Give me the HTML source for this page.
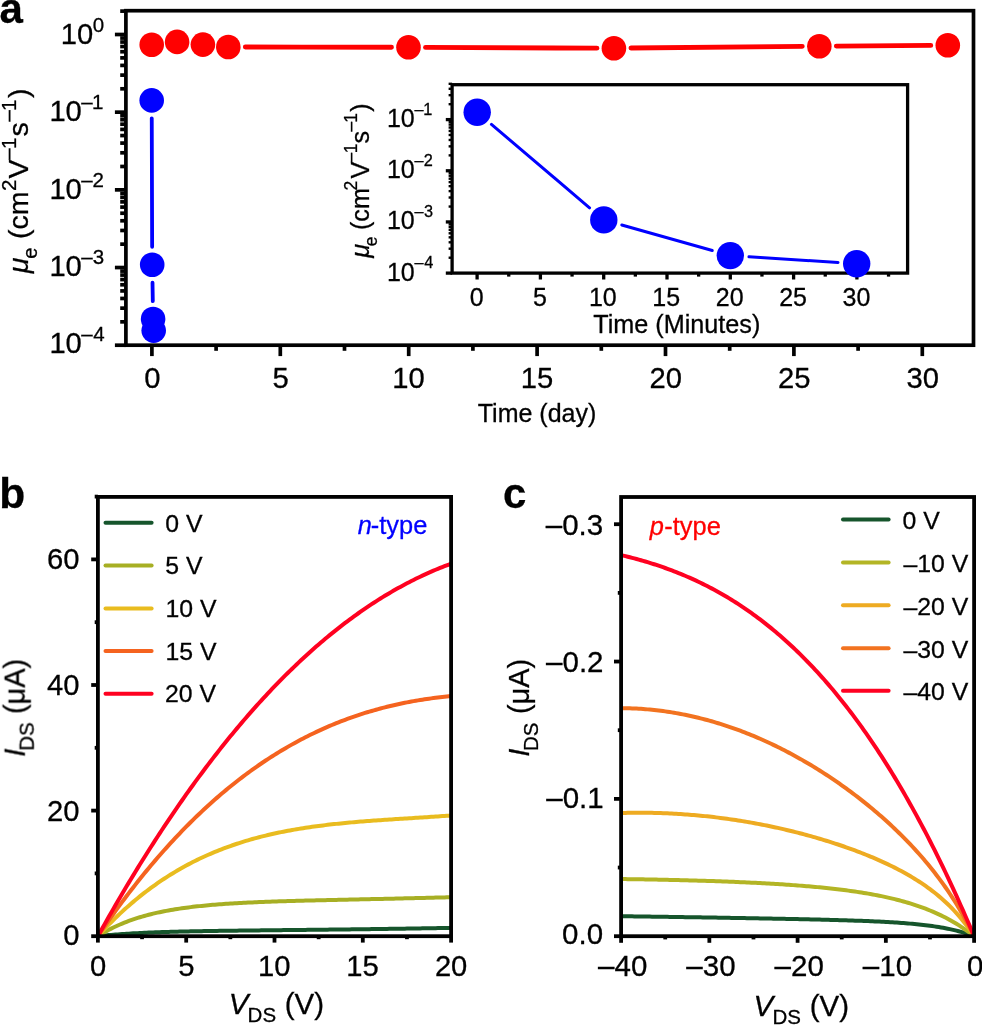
<!DOCTYPE html>
<html><head><meta charset="utf-8"><style>
html,body{margin:0;padding:0;background:#fff;}
svg{display:block;}
text{font-family:"Liberation Sans", sans-serif;stroke-width:0.3px;}
</style></head><body>
<svg width="982" height="1025" viewBox="0 0 982 1025">
<rect x="0" y="0" width="982" height="1025" fill="#fff"/>
<g opacity="0.999">
<line x1="125.9" y1="34.5" x2="114.9" y2="34.5" stroke="#000" stroke-width="3.7"/>
<line x1="125.9" y1="112.18" x2="114.9" y2="112.18" stroke="#000" stroke-width="3.7"/>
<line x1="125.9" y1="189.86" x2="114.9" y2="189.86" stroke="#000" stroke-width="3.7"/>
<line x1="125.9" y1="267.54" x2="114.9" y2="267.54" stroke="#000" stroke-width="3.7"/>
<line x1="125.9" y1="345.22" x2="114.9" y2="345.22" stroke="#000" stroke-width="3.7"/>
<line x1="125.9" y1="88.8" x2="120.2" y2="88.8" stroke="#000" stroke-width="3.7"/>
<line x1="125.9" y1="75.12" x2="120.2" y2="75.12" stroke="#000" stroke-width="3.7"/>
<line x1="125.9" y1="65.41" x2="120.2" y2="65.41" stroke="#000" stroke-width="3.7"/>
<line x1="125.9" y1="57.88" x2="120.2" y2="57.88" stroke="#000" stroke-width="3.7"/>
<line x1="125.9" y1="51.73" x2="120.2" y2="51.73" stroke="#000" stroke-width="3.7"/>
<line x1="125.9" y1="46.53" x2="120.2" y2="46.53" stroke="#000" stroke-width="3.7"/>
<line x1="125.9" y1="42.03" x2="120.2" y2="42.03" stroke="#000" stroke-width="3.7"/>
<line x1="125.9" y1="38.05" x2="120.2" y2="38.05" stroke="#000" stroke-width="3.7"/>
<line x1="125.9" y1="166.48" x2="120.2" y2="166.48" stroke="#000" stroke-width="3.7"/>
<line x1="125.9" y1="152.8" x2="120.2" y2="152.8" stroke="#000" stroke-width="3.7"/>
<line x1="125.9" y1="143.09" x2="120.2" y2="143.09" stroke="#000" stroke-width="3.7"/>
<line x1="125.9" y1="135.56" x2="120.2" y2="135.56" stroke="#000" stroke-width="3.7"/>
<line x1="125.9" y1="129.41" x2="120.2" y2="129.41" stroke="#000" stroke-width="3.7"/>
<line x1="125.9" y1="124.21" x2="120.2" y2="124.21" stroke="#000" stroke-width="3.7"/>
<line x1="125.9" y1="119.71" x2="120.2" y2="119.71" stroke="#000" stroke-width="3.7"/>
<line x1="125.9" y1="115.73" x2="120.2" y2="115.73" stroke="#000" stroke-width="3.7"/>
<line x1="125.9" y1="244.16" x2="120.2" y2="244.16" stroke="#000" stroke-width="3.7"/>
<line x1="125.9" y1="230.48" x2="120.2" y2="230.48" stroke="#000" stroke-width="3.7"/>
<line x1="125.9" y1="220.77" x2="120.2" y2="220.77" stroke="#000" stroke-width="3.7"/>
<line x1="125.9" y1="213.24" x2="120.2" y2="213.24" stroke="#000" stroke-width="3.7"/>
<line x1="125.9" y1="207.09" x2="120.2" y2="207.09" stroke="#000" stroke-width="3.7"/>
<line x1="125.9" y1="201.89" x2="120.2" y2="201.89" stroke="#000" stroke-width="3.7"/>
<line x1="125.9" y1="197.39" x2="120.2" y2="197.39" stroke="#000" stroke-width="3.7"/>
<line x1="125.9" y1="193.41" x2="120.2" y2="193.41" stroke="#000" stroke-width="3.7"/>
<line x1="125.9" y1="321.84" x2="120.2" y2="321.84" stroke="#000" stroke-width="3.7"/>
<line x1="125.9" y1="308.16" x2="120.2" y2="308.16" stroke="#000" stroke-width="3.7"/>
<line x1="125.9" y1="298.45" x2="120.2" y2="298.45" stroke="#000" stroke-width="3.7"/>
<line x1="125.9" y1="290.92" x2="120.2" y2="290.92" stroke="#000" stroke-width="3.7"/>
<line x1="125.9" y1="284.77" x2="120.2" y2="284.77" stroke="#000" stroke-width="3.7"/>
<line x1="125.9" y1="279.57" x2="120.2" y2="279.57" stroke="#000" stroke-width="3.7"/>
<line x1="125.9" y1="275.07" x2="120.2" y2="275.07" stroke="#000" stroke-width="3.7"/>
<line x1="125.9" y1="271.09" x2="120.2" y2="271.09" stroke="#000" stroke-width="3.7"/>
<line x1="125.9" y1="11.12" x2="120.2" y2="11.12" stroke="#000" stroke-width="3.7"/>
<line x1="151.9" y1="345.2" x2="151.9" y2="356.1" stroke="#000" stroke-width="3.7"/>
<line x1="280.3" y1="345.2" x2="280.3" y2="356.1" stroke="#000" stroke-width="3.7"/>
<line x1="408.7" y1="345.2" x2="408.7" y2="356.1" stroke="#000" stroke-width="3.7"/>
<line x1="537.1" y1="345.2" x2="537.1" y2="356.1" stroke="#000" stroke-width="3.7"/>
<line x1="665.5" y1="345.2" x2="665.5" y2="356.1" stroke="#000" stroke-width="3.7"/>
<line x1="793.9" y1="345.2" x2="793.9" y2="356.1" stroke="#000" stroke-width="3.7"/>
<line x1="922.3" y1="345.2" x2="922.3" y2="356.1" stroke="#000" stroke-width="3.7"/>
<line x1="216.1" y1="345.2" x2="216.1" y2="350.8" stroke="#000" stroke-width="3.7"/>
<line x1="344.5" y1="345.2" x2="344.5" y2="350.8" stroke="#000" stroke-width="3.7"/>
<line x1="472.9" y1="345.2" x2="472.9" y2="350.8" stroke="#000" stroke-width="3.7"/>
<line x1="601.3" y1="345.2" x2="601.3" y2="350.8" stroke="#000" stroke-width="3.7"/>
<line x1="729.7" y1="345.2" x2="729.7" y2="350.8" stroke="#000" stroke-width="3.7"/>
<line x1="858.1" y1="345.2" x2="858.1" y2="350.8" stroke="#000" stroke-width="3.7"/>
<rect x="125.9" y="10.7" width="847.6" height="334.5" fill="none" stroke="#000" stroke-width="3.7"/>
<text x="60.78" y="43.9" font-size="29.2" stroke="#000">10</text>
<text x="92.7" y="31.6" font-size="20.5" stroke="#000">0</text>
<text x="49.38" y="121" font-size="29.2" stroke="#000">10</text>
<text x="81.3" y="108.7" font-size="20.5" stroke="#000">–</text>
<text x="92.04" y="108.7" font-size="20.5" stroke="#000">1</text>
<text x="49.38" y="198.9" font-size="29.2" stroke="#000">10</text>
<text x="81.3" y="186.6" font-size="20.5" stroke="#000">–</text>
<text x="92.57" y="186.6" font-size="20.5" stroke="#000">2</text>
<text x="49.38" y="275.8" font-size="29.2" stroke="#000">10</text>
<text x="81.3" y="263.5" font-size="20.5" stroke="#000">–</text>
<text x="92.82" y="263.5" font-size="20.5" stroke="#000">3</text>
<text x="49.38" y="353.1" font-size="29.2" stroke="#000">10</text>
<text x="81.3" y="340.8" font-size="20.5" stroke="#000">–</text>
<text x="93.13" y="340.8" font-size="20.5" stroke="#000">4</text>
<text x="144.18" y="387.7" font-size="29.2" stroke="#000">0</text>
<text x="272.61" y="387.7" font-size="29.2" stroke="#000">5</text>
<text x="392.32" y="387.7" font-size="29.2" stroke="#000">10</text>
<text x="520.76" y="387.7" font-size="29.2" stroke="#000">15</text>
<text x="649.5" y="387.7" font-size="29.2" stroke="#000">20</text>
<text x="777.94" y="387.7" font-size="29.2" stroke="#000">25</text>
<text x="906.47" y="387.7" font-size="29.2" stroke="#000">30</text>
<text x="477.74" y="421.9" font-size="25" stroke="#000">Time (day)</text>
<g transform="translate(28.2,273.9) rotate(-90)"><text x="0.6" y="0" font-size="28.5" font-style="italic" stroke="#000">μ</text><text x="15.25" y="8.5" font-size="20" stroke="#000">e</text><text x="34.83" y="0" font-size="28.5" stroke="#000">(cm</text><text x="82.87" y="-12.4" font-size="20.5" stroke="#000">2</text><text x="95.47" y="0" font-size="28.5" stroke="#000">V</text><text x="114.2" y="-13.1" font-size="20.5" stroke="#000">–</text><text x="124.84" y="-12.6" font-size="20.5" stroke="#000">1</text><text x="137.31" y="0" font-size="28.5" stroke="#000">s</text><text x="152.3" y="-13.1" font-size="20.5" stroke="#000">–</text><text x="162.94" y="-12.6" font-size="20.5" stroke="#000">1</text><text x="176.03" y="0" font-size="28.5" stroke="#000">)</text></g>
<line x1="245.35" y1="47.03" x2="391.45" y2="47.27" stroke="#ff0000" stroke-width="4.9" stroke-linecap="round"/>
<line x1="425.55" y1="47.37" x2="596.85" y2="48.13" stroke="#ff0000" stroke-width="4.9" stroke-linecap="round"/>
<line x1="630.95" y1="48.03" x2="802.25" y2="46.37" stroke="#ff0000" stroke-width="4.9" stroke-linecap="round"/>
<line x1="836.35" y1="46.08" x2="930.75" y2="45.42" stroke="#ff0000" stroke-width="4.9" stroke-linecap="round"/>
<line x1="151.75" y1="118.3" x2="152.15" y2="246.8" stroke="#0000ff" stroke-width="3.8" stroke-linecap="round"/>
<line x1="152.5" y1="282.6" x2="152.8" y2="301.1" stroke="#0000ff" stroke-width="3.8" stroke-linecap="round"/>
<circle cx="151.7" cy="44.7" r="12.3" fill="#ff0000"/>
<circle cx="177.1" cy="41.9" r="12.3" fill="#ff0000"/>
<circle cx="202.9" cy="44.6" r="12.3" fill="#ff0000"/>
<circle cx="228.3" cy="47" r="12.3" fill="#ff0000"/>
<circle cx="408.5" cy="47.3" r="12.3" fill="#ff0000"/>
<circle cx="613.9" cy="48.2" r="12.3" fill="#ff0000"/>
<circle cx="819.3" cy="46.2" r="12.3" fill="#ff0000"/>
<circle cx="947.8" cy="45.3" r="12.3" fill="#ff0000"/>
<circle cx="151.7" cy="100.4" r="12.3" fill="#0000ff"/>
<circle cx="152.2" cy="264.7" r="12.3" fill="#0000ff"/>
<circle cx="153.1" cy="319" r="12.3" fill="#0000ff"/>
<circle cx="153.7" cy="330.6" r="12.3" fill="#0000ff"/>
<line x1="452.1" y1="119.6" x2="445.8" y2="119.6" stroke="#000" stroke-width="3.3"/>
<line x1="452.1" y1="170.77" x2="445.8" y2="170.77" stroke="#000" stroke-width="3.3"/>
<line x1="452.1" y1="221.94" x2="445.8" y2="221.94" stroke="#000" stroke-width="3.3"/>
<line x1="452.1" y1="273.11" x2="445.8" y2="273.11" stroke="#000" stroke-width="3.3"/>
<line x1="452.1" y1="104.2" x2="448.6" y2="104.2" stroke="#000" stroke-width="2.4"/>
<line x1="452.1" y1="95.19" x2="448.6" y2="95.19" stroke="#000" stroke-width="2.4"/>
<line x1="452.1" y1="88.79" x2="448.6" y2="88.79" stroke="#000" stroke-width="2.4"/>
<line x1="452.1" y1="83.83" x2="448.6" y2="83.83" stroke="#000" stroke-width="2.4"/>
<line x1="452.1" y1="155.37" x2="448.6" y2="155.37" stroke="#000" stroke-width="2.4"/>
<line x1="452.1" y1="146.36" x2="448.6" y2="146.36" stroke="#000" stroke-width="2.4"/>
<line x1="452.1" y1="139.96" x2="448.6" y2="139.96" stroke="#000" stroke-width="2.4"/>
<line x1="452.1" y1="135" x2="448.6" y2="135" stroke="#000" stroke-width="2.4"/>
<line x1="452.1" y1="130.95" x2="448.6" y2="130.95" stroke="#000" stroke-width="2.4"/>
<line x1="452.1" y1="127.53" x2="448.6" y2="127.53" stroke="#000" stroke-width="2.4"/>
<line x1="452.1" y1="124.56" x2="448.6" y2="124.56" stroke="#000" stroke-width="2.4"/>
<line x1="452.1" y1="121.94" x2="448.6" y2="121.94" stroke="#000" stroke-width="2.4"/>
<line x1="452.1" y1="206.54" x2="448.6" y2="206.54" stroke="#000" stroke-width="2.4"/>
<line x1="452.1" y1="197.53" x2="448.6" y2="197.53" stroke="#000" stroke-width="2.4"/>
<line x1="452.1" y1="191.13" x2="448.6" y2="191.13" stroke="#000" stroke-width="2.4"/>
<line x1="452.1" y1="186.17" x2="448.6" y2="186.17" stroke="#000" stroke-width="2.4"/>
<line x1="452.1" y1="182.12" x2="448.6" y2="182.12" stroke="#000" stroke-width="2.4"/>
<line x1="452.1" y1="178.7" x2="448.6" y2="178.7" stroke="#000" stroke-width="2.4"/>
<line x1="452.1" y1="175.73" x2="448.6" y2="175.73" stroke="#000" stroke-width="2.4"/>
<line x1="452.1" y1="173.11" x2="448.6" y2="173.11" stroke="#000" stroke-width="2.4"/>
<line x1="452.1" y1="257.71" x2="448.6" y2="257.71" stroke="#000" stroke-width="2.4"/>
<line x1="452.1" y1="248.7" x2="448.6" y2="248.7" stroke="#000" stroke-width="2.4"/>
<line x1="452.1" y1="242.3" x2="448.6" y2="242.3" stroke="#000" stroke-width="2.4"/>
<line x1="452.1" y1="237.34" x2="448.6" y2="237.34" stroke="#000" stroke-width="2.4"/>
<line x1="452.1" y1="233.29" x2="448.6" y2="233.29" stroke="#000" stroke-width="2.4"/>
<line x1="452.1" y1="229.87" x2="448.6" y2="229.87" stroke="#000" stroke-width="2.4"/>
<line x1="452.1" y1="226.9" x2="448.6" y2="226.9" stroke="#000" stroke-width="2.4"/>
<line x1="452.1" y1="224.28" x2="448.6" y2="224.28" stroke="#000" stroke-width="2.4"/>
<line x1="477.1" y1="273.1" x2="477.1" y2="279.5" stroke="#000" stroke-width="3.3"/>
<line x1="540.4" y1="273.1" x2="540.4" y2="279.5" stroke="#000" stroke-width="3.3"/>
<line x1="603.7" y1="273.1" x2="603.7" y2="279.5" stroke="#000" stroke-width="3.3"/>
<line x1="667" y1="273.1" x2="667" y2="279.5" stroke="#000" stroke-width="3.3"/>
<line x1="730.3" y1="273.1" x2="730.3" y2="279.5" stroke="#000" stroke-width="3.3"/>
<line x1="793.6" y1="273.1" x2="793.6" y2="279.5" stroke="#000" stroke-width="3.3"/>
<line x1="856.9" y1="273.1" x2="856.9" y2="279.5" stroke="#000" stroke-width="3.3"/>
<line x1="508.75" y1="273.1" x2="508.75" y2="276.6" stroke="#000" stroke-width="3.3"/>
<line x1="572.05" y1="273.1" x2="572.05" y2="276.6" stroke="#000" stroke-width="3.3"/>
<line x1="635.35" y1="273.1" x2="635.35" y2="276.6" stroke="#000" stroke-width="3.3"/>
<line x1="698.65" y1="273.1" x2="698.65" y2="276.6" stroke="#000" stroke-width="3.3"/>
<line x1="761.95" y1="273.1" x2="761.95" y2="276.6" stroke="#000" stroke-width="3.3"/>
<line x1="825.25" y1="273.1" x2="825.25" y2="276.6" stroke="#000" stroke-width="3.3"/>
<line x1="888.55" y1="273.1" x2="888.55" y2="276.6" stroke="#000" stroke-width="3.3"/>
<rect x="452.1" y="84.7" width="455.5" height="188.4" fill="none" stroke="#000" stroke-width="3.3"/>
<text x="386.9" y="127.1" font-size="25" stroke="#000">10</text>
<text x="414.4" y="114.8" font-size="16.3" stroke="#000">–</text>
<text x="423.36" y="114.8" font-size="16.3" stroke="#000">1</text>
<text x="386.9" y="178" font-size="25" stroke="#000">10</text>
<text x="414.4" y="165.7" font-size="16.3" stroke="#000">–</text>
<text x="423.78" y="165.7" font-size="16.3" stroke="#000">2</text>
<text x="386.9" y="229.3" font-size="25" stroke="#000">10</text>
<text x="414.4" y="217" font-size="16.3" stroke="#000">–</text>
<text x="423.98" y="217" font-size="16.3" stroke="#000">3</text>
<text x="386.9" y="280.6" font-size="25" stroke="#000">10</text>
<text x="414.4" y="268.3" font-size="16.3" stroke="#000">–</text>
<text x="424.23" y="268.3" font-size="16.3" stroke="#000">4</text>
<text x="469.75" y="305.9" font-size="25" stroke="#000">0</text>
<text x="533.07" y="305.9" font-size="25" stroke="#000">5</text>
<text x="588.93" y="305.9" font-size="25" stroke="#000">10</text>
<text x="652.27" y="305.9" font-size="25" stroke="#000">15</text>
<text x="715.86" y="305.9" font-size="25" stroke="#000">20</text>
<text x="779.19" y="305.9" font-size="25" stroke="#000">25</text>
<text x="842.61" y="305.9" font-size="25" stroke="#000">30</text>
<text x="593.33" y="332.7" font-size="25.2" stroke="#000">Time (Minutes)</text>
<g transform="translate(369,258.3) rotate(-90)"><text x="0.53" y="0" font-size="25.2" font-style="italic" stroke="#000">μ</text><text x="12.06" y="8.2" font-size="17.5" stroke="#000">e</text><text x="28.24" y="0" font-size="25.2" stroke="#000">(cm</text><text x="67.92" y="-12" font-size="17.5" stroke="#000">2</text><text x="79.89" y="0" font-size="25.2" stroke="#000">V</text><text x="95.8" y="-12.8" font-size="17.5" stroke="#000">–</text><text x="104.97" y="-12" font-size="17.5" stroke="#000">1</text><text x="114.8" y="0" font-size="25.2" stroke="#000">s</text><text x="126.9" y="-12.8" font-size="17.5" stroke="#000">–</text><text x="135.67" y="-12" font-size="17.5" stroke="#000">1</text><text x="146.45" y="0" font-size="25.2" stroke="#000">)</text></g>
<line x1="491.45" y1="124.41" x2="589.55" y2="207.79" stroke="#0000ff" stroke-width="3" stroke-linecap="round"/>
<line x1="621.8" y1="224.98" x2="712.3" y2="250.52" stroke="#0000ff" stroke-width="3" stroke-linecap="round"/>
<line x1="748.96" y1="256.8" x2="838.04" y2="262.5" stroke="#0000ff" stroke-width="3" stroke-linecap="round"/>
<circle cx="477.2" cy="112.3" r="13.7" fill="#0000ff"/>
<circle cx="603.8" cy="219.9" r="13.7" fill="#0000ff"/>
<circle cx="730.3" cy="255.6" r="13.7" fill="#0000ff"/>
<circle cx="856.7" cy="263.7" r="13.7" fill="#0000ff"/>
<polyline points="97.9,936.2 100.11,935.96 102.32,935.73 104.52,935.52 106.73,935.31 108.94,935.11 111.15,934.91 113.35,934.73 115.56,934.55 117.77,934.38 119.98,934.22 122.18,934.06 124.39,933.91 126.6,933.77 128.81,933.63 131.01,933.5 133.22,933.37 135.43,933.25 137.63,933.14 139.84,933.02 142.05,932.92 144.26,932.81 146.47,932.72 148.67,932.62 150.88,932.53 153.09,932.44 155.3,932.36 157.5,932.28 159.71,932.2 161.92,932.12 164.12,932.05 166.33,931.98 168.54,931.91 170.75,931.85 172.96,931.79 175.16,931.73 177.37,931.67 179.58,931.61 181.79,931.56 183.99,931.51 186.2,931.46 188.41,931.41 190.62,931.36 192.82,931.32 195.03,931.27 197.24,931.23 199.44,931.19 201.65,931.15 203.86,931.11 206.07,931.07 208.28,931.04 210.48,931 212.69,930.97 214.9,930.93 217.11,930.9 219.31,930.87 221.52,930.84 223.73,930.8 225.94,930.77 228.14,930.74 230.35,930.72 232.56,930.69 234.77,930.66 236.97,930.63 239.18,930.61 241.39,930.58 243.59,930.55 245.8,930.53 248.01,930.5 250.22,930.48 252.43,930.45 254.63,930.43 256.84,930.4 259.05,930.38 261.25,930.35 263.46,930.33 265.67,930.31 267.88,930.28 270.09,930.26 272.29,930.24 274.5,930.21 276.71,930.19 278.92,930.17 281.12,930.14 283.33,930.12 285.54,930.1 287.75,930.07 289.95,930.05 292.16,930.03 294.37,930 296.58,929.98 298.78,929.96 300.99,929.93 303.2,929.91 305.4,929.89 307.61,929.86 309.82,929.84 312.03,929.82 314.24,929.79 316.44,929.77 318.65,929.74 320.86,929.72 323.06,929.69 325.27,929.67 327.48,929.64 329.69,929.62 331.89,929.59 334.1,929.57 336.31,929.54 338.52,929.52 340.73,929.49 342.93,929.46 345.14,929.44 347.35,929.41 349.56,929.38 351.76,929.36 353.97,929.33 356.18,929.3 358.38,929.27 360.59,929.24 362.8,929.22 365.01,929.19 367.22,929.16 369.42,929.13 371.63,929.1 373.84,929.07 376.04,929.04 378.25,929.01 380.46,928.98 382.67,928.95 384.88,928.92 387.08,928.89 389.29,928.86 391.5,928.82 393.71,928.79 395.91,928.76 398.12,928.73 400.33,928.69 402.53,928.66 404.74,928.63 406.95,928.59 409.16,928.56 411.37,928.53 413.57,928.49 415.78,928.46 417.99,928.42 420.2,928.39 422.4,928.35 424.61,928.32 426.82,928.28 429.02,928.24 431.23,928.21 433.44,928.17 435.65,928.13 437.86,928.09 440.06,928.06 442.27,928.02 444.48,927.98 446.69,927.94 448.89,927.9 451.1,927.86" fill="none" stroke="#16552c" stroke-width="4" stroke-linejoin="round"/>
<polyline points="97.9,936.2 100.11,934.81 102.32,933.47 104.52,932.19 106.73,930.96 108.94,929.77 111.15,928.63 113.35,927.53 115.56,926.48 117.77,925.46 119.98,924.49 122.18,923.55 124.39,922.65 126.6,921.79 128.81,920.96 131.01,920.16 133.22,919.39 135.43,918.65 137.63,917.94 139.84,917.26 142.05,916.6 144.26,915.97 146.47,915.36 148.67,914.78 150.88,914.22 153.09,913.68 155.3,913.16 157.5,912.67 159.71,912.19 161.92,911.73 164.12,911.28 166.33,910.86 168.54,910.45 170.75,910.06 172.96,909.68 175.16,909.31 177.37,908.96 179.58,908.63 181.79,908.3 183.99,907.99 186.2,907.69 188.41,907.4 190.62,907.13 192.82,906.86 195.03,906.6 197.24,906.35 199.44,906.12 201.65,905.89 203.86,905.67 206.07,905.45 208.28,905.25 210.48,905.05 212.69,904.86 214.9,904.68 217.11,904.5 219.31,904.33 221.52,904.17 223.73,904.01 225.94,903.86 228.14,903.71 230.35,903.57 232.56,903.43 234.77,903.3 236.97,903.17 239.18,903.05 241.39,902.93 243.59,902.81 245.8,902.7 248.01,902.59 250.22,902.48 252.43,902.38 254.63,902.28 256.84,902.19 259.05,902.1 261.25,902.01 263.46,901.92 265.67,901.83 267.88,901.75 270.09,901.67 272.29,901.59 274.5,901.52 276.71,901.44 278.92,901.37 281.12,901.3 283.33,901.23 285.54,901.16 287.75,901.09 289.95,901.03 292.16,900.97 294.37,900.9 296.58,900.84 298.78,900.78 300.99,900.73 303.2,900.67 305.4,900.61 307.61,900.56 309.82,900.5 312.03,900.45 314.24,900.39 316.44,900.34 318.65,900.29 320.86,900.24 323.06,900.18 325.27,900.13 327.48,900.08 329.69,900.03 331.89,899.98 334.1,899.93 336.31,899.89 338.52,899.84 340.73,899.79 342.93,899.74 345.14,899.69 347.35,899.64 349.56,899.6 351.76,899.55 353.97,899.5 356.18,899.45 358.38,899.41 360.59,899.36 362.8,899.31 365.01,899.26 367.22,899.22 369.42,899.17 371.63,899.12 373.84,899.07 376.04,899.02 378.25,898.97 380.46,898.93 382.67,898.88 384.88,898.83 387.08,898.78 389.29,898.73 391.5,898.68 393.71,898.63 395.91,898.58 398.12,898.53 400.33,898.48 402.53,898.43 404.74,898.37 406.95,898.32 409.16,898.27 411.37,898.22 413.57,898.16 415.78,898.11 417.99,898.06 420.2,898 422.4,897.95 424.61,897.89 426.82,897.84 429.02,897.78 431.23,897.73 433.44,897.67 435.65,897.61 437.86,897.55 440.06,897.5 442.27,897.44 444.48,897.38 446.69,897.32 448.89,897.26 451.1,897.2" fill="none" stroke="#a7af24" stroke-width="4" stroke-linejoin="round"/>
<polyline points="97.9,936.2 100.11,933.78 102.32,931.39 104.52,929.05 106.73,926.74 108.94,924.47 111.15,922.24 113.35,920.04 115.56,917.89 117.77,915.76 119.98,913.67 122.18,911.62 124.39,909.6 126.6,907.62 128.81,905.67 131.01,903.75 133.22,901.87 135.43,900.02 137.63,898.2 139.84,896.41 142.05,894.66 144.26,892.93 146.47,891.24 148.67,889.58 150.88,887.94 153.09,886.34 155.3,884.76 157.5,883.22 159.71,881.7 161.92,880.21 164.12,878.75 166.33,877.31 168.54,875.9 170.75,874.52 172.96,873.17 175.16,871.84 177.37,870.53 179.58,869.25 181.79,868 183.99,866.77 186.2,865.56 188.41,864.38 190.62,863.22 192.82,862.09 195.03,860.98 197.24,859.89 199.44,858.82 201.65,857.77 203.86,856.75 206.07,855.74 208.28,854.76 210.48,853.8 212.69,852.86 214.9,851.94 217.11,851.03 219.31,850.15 221.52,849.29 223.73,848.44 225.94,847.62 228.14,846.81 230.35,846.02 232.56,845.25 234.77,844.49 236.97,843.75 239.18,843.03 241.39,842.32 243.59,841.63 245.8,840.96 248.01,840.3 250.22,839.66 252.43,839.03 254.63,838.42 256.84,837.82 259.05,837.24 261.25,836.67 263.46,836.11 265.67,835.57 267.88,835.04 270.09,834.52 272.29,834.02 274.5,833.53 276.71,833.05 278.92,832.58 281.12,832.13 283.33,831.68 285.54,831.25 287.75,830.83 289.95,830.42 292.16,830.02 294.37,829.63 296.58,829.25 298.78,828.88 300.99,828.52 303.2,828.16 305.4,827.82 307.61,827.49 309.82,827.16 312.03,826.85 314.24,826.54 316.44,826.24 318.65,825.95 320.86,825.66 323.06,825.39 325.27,825.12 327.48,824.86 329.69,824.6 331.89,824.35 334.1,824.11 336.31,823.87 338.52,823.64 340.73,823.41 342.93,823.19 345.14,822.98 347.35,822.77 349.56,822.57 351.76,822.37 353.97,822.17 356.18,821.98 358.38,821.8 360.59,821.61 362.8,821.44 365.01,821.26 367.22,821.09 369.42,820.92 371.63,820.76 373.84,820.6 376.04,820.44 378.25,820.28 380.46,820.13 382.67,819.97 384.88,819.82 387.08,819.68 389.29,819.53 391.5,819.39 393.71,819.24 395.91,819.1 398.12,818.96 400.33,818.82 402.53,818.68 404.74,818.54 406.95,818.4 409.16,818.26 411.37,818.13 413.57,817.99 415.78,817.85 417.99,817.71 420.2,817.57 422.4,817.43 424.61,817.29 426.82,817.15 429.02,817 431.23,816.86 433.44,816.71 435.65,816.57 437.86,816.42 440.06,816.27 442.27,816.11 444.48,815.96 446.69,815.8 448.89,815.64 451.1,815.48" fill="none" stroke="#e9bc1f" stroke-width="4" stroke-linejoin="round"/>
<polyline points="97.9,936.2 100.11,932.95 102.32,929.72 104.52,926.53 106.73,923.36 108.94,920.21 111.15,917.1 113.35,914.01 115.56,910.95 117.77,907.92 119.98,904.91 122.18,901.93 124.39,898.98 126.6,896.05 128.81,893.15 131.01,890.28 133.22,887.43 135.43,884.61 137.63,881.82 139.84,879.05 142.05,876.3 144.26,873.59 146.47,870.89 148.67,868.23 150.88,865.59 153.09,862.97 155.3,860.38 157.5,857.82 159.71,855.27 161.92,852.76 164.12,850.27 166.33,847.8 168.54,845.36 170.75,842.94 172.96,840.55 175.16,838.18 177.37,835.84 179.58,833.51 181.79,831.22 183.99,828.94 186.2,826.69 188.41,824.47 190.62,822.27 192.82,820.09 195.03,817.93 197.24,815.8 199.44,813.69 201.65,811.6 203.86,809.54 206.07,807.49 208.28,805.47 210.48,803.48 212.69,801.5 214.9,799.55 217.11,797.62 219.31,795.71 221.52,793.83 223.73,791.96 225.94,790.12 228.14,788.3 230.35,786.5 232.56,784.72 234.77,782.96 236.97,781.23 239.18,779.51 241.39,777.82 243.59,776.15 245.8,774.49 248.01,772.86 250.22,771.25 252.43,769.66 254.63,768.09 256.84,766.54 259.05,765.01 261.25,763.5 263.46,762.01 265.67,760.53 267.88,759.08 270.09,757.65 272.29,756.24 274.5,754.84 276.71,753.47 278.92,752.11 281.12,750.78 283.33,749.46 285.54,748.16 287.75,746.88 289.95,745.62 292.16,744.38 294.37,743.15 296.58,741.95 298.78,740.76 300.99,739.59 303.2,738.43 305.4,737.3 307.61,736.18 309.82,735.08 312.03,734 314.24,732.93 316.44,731.89 318.65,730.86 320.86,729.84 323.06,728.85 325.27,727.87 327.48,726.9 329.69,725.95 331.89,725.02 334.1,724.11 336.31,723.21 338.52,722.33 340.73,721.46 342.93,720.61 345.14,719.78 347.35,718.96 349.56,718.16 351.76,717.37 353.97,716.6 356.18,715.84 358.38,715.1 360.59,714.37 362.8,713.66 365.01,712.96 367.22,712.28 369.42,711.61 371.63,710.96 373.84,710.32 376.04,709.7 378.25,709.09 380.46,708.49 382.67,707.91 384.88,707.34 387.08,706.78 389.29,706.24 391.5,705.71 393.71,705.2 395.91,704.7 398.12,704.21 400.33,703.73 402.53,703.27 404.74,702.82 406.95,702.39 409.16,701.96 411.37,701.55 413.57,701.15 415.78,700.77 417.99,700.39 420.2,700.03 422.4,699.68 424.61,699.34 426.82,699.01 429.02,698.7 431.23,698.39 433.44,698.1 435.65,697.82 437.86,697.55 440.06,697.29 442.27,697.04 444.48,696.81 446.69,696.58 448.89,696.36 451.1,696.16" fill="none" stroke="#f5631f" stroke-width="4" stroke-linejoin="round"/>
<polyline points="97.9,936.2 100.11,932.23 102.32,928.28 104.52,924.36 106.73,920.46 108.94,916.58 111.15,912.72 113.35,908.88 115.56,905.07 117.77,901.27 119.98,897.5 122.18,893.76 124.39,890.03 126.6,886.33 128.81,882.64 131.01,878.98 133.22,875.34 135.43,871.73 137.63,868.13 139.84,864.56 142.05,861.01 144.26,857.47 146.47,853.97 148.67,850.48 150.88,847.01 153.09,843.57 155.3,840.15 157.5,836.75 159.71,833.37 161.92,830.01 164.12,826.67 166.33,823.36 168.54,820.06 170.75,816.79 172.96,813.54 175.16,810.31 177.37,807.1 179.58,803.91 181.79,800.74 183.99,797.6 186.2,794.47 188.41,791.37 190.62,788.29 192.82,785.23 195.03,782.19 197.24,779.17 199.44,776.17 201.65,773.19 203.86,770.23 206.07,767.3 208.28,764.38 210.48,761.49 212.69,758.61 214.9,755.76 217.11,752.93 219.31,750.12 221.52,747.32 223.73,744.55 225.94,741.8 228.14,739.07 230.35,736.36 232.56,733.68 234.77,731.01 236.97,728.36 239.18,725.73 241.39,723.12 243.59,720.54 245.8,717.97 248.01,715.42 250.22,712.9 252.43,710.39 254.63,707.91 256.84,705.44 259.05,702.99 261.25,700.57 263.46,698.16 265.67,695.78 267.88,693.41 270.09,691.07 272.29,688.74 274.5,686.44 276.71,684.15 278.92,681.88 281.12,679.64 283.33,677.41 285.54,675.2 287.75,673.02 289.95,670.85 292.16,668.7 294.37,666.57 296.58,664.46 298.78,662.37 300.99,660.3 303.2,658.25 305.4,656.22 307.61,654.21 309.82,652.22 312.03,650.25 314.24,648.29 316.44,646.36 318.65,644.45 320.86,642.55 323.06,640.67 325.27,638.82 327.48,636.98 329.69,635.16 331.89,633.36 334.1,631.58 336.31,629.82 338.52,628.08 340.73,626.35 342.93,624.65 345.14,622.96 347.35,621.3 349.56,619.65 351.76,618.02 353.97,616.41 356.18,614.82 358.38,613.25 360.59,611.69 362.8,610.16 365.01,608.64 367.22,607.14 369.42,605.66 371.63,604.2 373.84,602.76 376.04,601.33 378.25,599.93 380.46,598.54 382.67,597.17 384.88,595.82 387.08,594.49 389.29,593.18 391.5,591.88 393.71,590.6 395.91,589.35 398.12,588.1 400.33,586.88 402.53,585.68 404.74,584.49 406.95,583.32 409.16,582.17 411.37,581.04 413.57,579.93 415.78,578.83 417.99,577.75 420.2,576.69 422.4,575.65 424.61,574.62 426.82,573.62 429.02,572.63 431.23,571.66 433.44,570.7 435.65,569.77 437.86,568.85 440.06,567.95 442.27,567.06 444.48,566.2 446.69,565.35 448.89,564.52 451.1,563.71" fill="none" stroke="#ff0020" stroke-width="4" stroke-linejoin="round"/>
<line x1="97.9" y1="936.2" x2="91.2" y2="936.2" stroke="#000" stroke-width="3.8"/>
<line x1="97.9" y1="810.6" x2="91.2" y2="810.6" stroke="#000" stroke-width="3.8"/>
<line x1="97.9" y1="685" x2="91.2" y2="685" stroke="#000" stroke-width="3.8"/>
<line x1="97.9" y1="559.4" x2="91.2" y2="559.4" stroke="#000" stroke-width="3.8"/>
<line x1="97.9" y1="873.4" x2="94.7" y2="873.4" stroke="#000" stroke-width="3.8"/>
<line x1="97.9" y1="747.8" x2="94.7" y2="747.8" stroke="#000" stroke-width="3.8"/>
<line x1="97.9" y1="622.2" x2="94.7" y2="622.2" stroke="#000" stroke-width="3.8"/>
<line x1="97.9" y1="496.6" x2="94.7" y2="496.6" stroke="#000" stroke-width="3.8"/>
<line x1="97.9" y1="936.2" x2="97.9" y2="942.6" stroke="#000" stroke-width="3.8"/>
<line x1="186.2" y1="936.2" x2="186.2" y2="942.6" stroke="#000" stroke-width="3.8"/>
<line x1="274.5" y1="936.2" x2="274.5" y2="942.6" stroke="#000" stroke-width="3.8"/>
<line x1="362.8" y1="936.2" x2="362.8" y2="942.6" stroke="#000" stroke-width="3.8"/>
<line x1="451.1" y1="936.2" x2="451.1" y2="942.6" stroke="#000" stroke-width="3.8"/>
<line x1="142.05" y1="936.2" x2="142.05" y2="939.2" stroke="#000" stroke-width="3.8"/>
<line x1="230.35" y1="936.2" x2="230.35" y2="939.2" stroke="#000" stroke-width="3.8"/>
<line x1="318.65" y1="936.2" x2="318.65" y2="939.2" stroke="#000" stroke-width="3.8"/>
<line x1="406.95" y1="936.2" x2="406.95" y2="939.2" stroke="#000" stroke-width="3.8"/>
<rect x="97.9" y="496.9" width="353.2" height="439.3" fill="none" stroke="#000" stroke-width="3.8"/>
<text x="63.3" y="944.8" font-size="29.2" stroke="#000">0</text>
<text x="47.06" y="820.6" font-size="29.2" stroke="#000">20</text>
<text x="47.06" y="695" font-size="29.2" stroke="#000">40</text>
<text x="47.06" y="569.4" font-size="29.2" stroke="#000">60</text>
<text x="89.98" y="976.4" font-size="29.2" stroke="#000">0</text>
<text x="178.31" y="976.4" font-size="29.2" stroke="#000">5</text>
<text x="257.92" y="976.4" font-size="29.2" stroke="#000">10</text>
<text x="346.26" y="976.4" font-size="29.2" stroke="#000">15</text>
<text x="434.9" y="976.4" font-size="29.2" stroke="#000">20</text>
<line x1="105.5" y1="522.8" x2="151.6" y2="522.8" stroke="#16552c" stroke-width="4" stroke-linecap="round"/>
<text x="165.33" y="531.7" font-size="24.8" stroke="#000">0 V</text>
<line x1="105.5" y1="565.5" x2="151.6" y2="565.5" stroke="#a7af24" stroke-width="4" stroke-linecap="round"/>
<text x="165.31" y="574" font-size="24.8" stroke="#000">5 V</text>
<line x1="105.5" y1="608.5" x2="151.6" y2="608.5" stroke="#e9bc1f" stroke-width="4" stroke-linecap="round"/>
<text x="165.51" y="617.4" font-size="24.8" stroke="#000">10 V</text>
<line x1="105.5" y1="651" x2="151.6" y2="651" stroke="#f5631f" stroke-width="4" stroke-linecap="round"/>
<text x="165.51" y="659.7" font-size="24.8" stroke="#000">15 V</text>
<line x1="105.5" y1="693.8" x2="151.6" y2="693.8" stroke="#ff0020" stroke-width="4" stroke-linecap="round"/>
<text x="165.05" y="702" font-size="24.8" stroke="#000">20 V</text>
<text x="357.68" y="534" font-size="25.4" font-style="italic" fill="#0000ff" stroke="#0000ff">n</text>
<text x="370.87" y="534" font-size="25.4" fill="#0000ff" stroke="#0000ff">-type</text>
<text x="228.65" y="1014.1" font-size="29.5" font-style="italic" stroke="#000">V</text>
<text x="247.62" y="1021.5" font-size="20.5" stroke="#000">DS</text>
<text x="284.77" y="1014.1" font-size="29.5" stroke="#000">(V)</text>
<g transform="translate(24.7,755.5) rotate(-90)"><text x="-1.15" y="0" font-size="29" font-style="italic" stroke="#000">I</text><text x="4.72" y="9.3" font-size="20.5" stroke="#000">DS</text><text x="41.4" y="0" font-size="29" stroke="#000">(μA)</text></g>
<polyline points="974.1,936.2 971.89,935.37 969.69,934.58 967.48,933.83 965.27,933.13 963.07,932.46 960.86,931.83 958.66,931.23 956.45,930.67 954.24,930.13 952.04,929.62 949.83,929.14 947.62,928.68 945.42,928.25 943.21,927.84 941.01,927.45 938.8,927.08 936.59,926.72 934.39,926.39 932.18,926.07 929.98,925.77 927.77,925.48 925.56,925.21 923.36,924.95 921.15,924.7 918.94,924.47 916.74,924.24 914.53,924.03 912.33,923.82 910.12,923.63 907.91,923.44 905.71,923.26 903.5,923.09 901.29,922.93 899.09,922.77 896.88,922.62 894.68,922.48 892.47,922.34 890.26,922.21 888.06,922.08 885.85,921.96 883.64,921.84 881.44,921.72 879.23,921.62 877.03,921.51 874.82,921.41 872.61,921.31 870.41,921.21 868.2,921.12 865.99,921.03 863.79,920.95 861.58,920.86 859.38,920.78 857.17,920.7 854.96,920.63 852.76,920.55 850.55,920.48 848.34,920.41 846.14,920.34 843.93,920.27 841.73,920.2 839.52,920.14 837.31,920.08 835.11,920.02 832.9,919.96 830.69,919.9 828.49,919.84 826.28,919.78 824.08,919.72 821.87,919.67 819.66,919.62 817.46,919.56 815.25,919.51 813.04,919.46 810.84,919.41 808.63,919.36 806.43,919.31 804.22,919.26 802.01,919.21 799.81,919.16 797.6,919.12 795.39,919.07 793.19,919.02 790.98,918.98 788.78,918.93 786.57,918.89 784.36,918.85 782.16,918.8 779.95,918.76 777.74,918.72 775.54,918.67 773.33,918.63 771.12,918.59 768.92,918.55 766.71,918.51 764.51,918.46 762.3,918.42 760.09,918.38 757.89,918.34 755.68,918.3 753.48,918.26 751.27,918.22 749.06,918.19 746.86,918.15 744.65,918.11 742.44,918.07 740.24,918.03 738.03,917.99 735.83,917.96 733.62,917.92 731.41,917.88 729.21,917.84 727,917.81 724.79,917.77 722.59,917.73 720.38,917.69 718.18,917.66 715.97,917.62 713.76,917.59 711.56,917.55 709.35,917.51 707.14,917.48 704.94,917.44 702.73,917.41 700.53,917.37 698.32,917.34 696.11,917.3 693.91,917.27 691.7,917.23 689.49,917.2 687.29,917.16 685.08,917.13 682.88,917.1 680.67,917.06 678.46,917.03 676.26,916.99 674.05,916.96 671.84,916.93 669.64,916.89 667.43,916.86 665.23,916.83 663.02,916.79 660.81,916.76 658.61,916.73 656.4,916.7 654.19,916.66 651.99,916.63 649.78,916.6 647.58,916.57 645.37,916.53 643.16,916.5 640.96,916.47 638.75,916.44 636.54,916.41 634.34,916.38 632.13,916.34 629.93,916.31 627.72,916.28 625.51,916.25 623.31,916.22 621.1,916.19" fill="none" stroke="#16552c" stroke-width="4" stroke-linejoin="round"/>
<polyline points="974.1,936.2 971.89,934.46 969.69,932.78 967.48,931.15 965.27,929.58 963.07,928.06 960.86,926.59 958.66,925.17 956.45,923.8 954.24,922.48 952.04,921.2 949.83,919.96 947.62,918.76 945.42,917.6 943.21,916.48 941.01,915.39 938.8,914.34 936.59,913.33 934.39,912.35 932.18,911.4 929.98,910.48 927.77,909.59 925.56,908.73 923.36,907.89 921.15,907.08 918.94,906.3 916.74,905.54 914.53,904.81 912.33,904.1 910.12,903.41 907.91,902.74 905.71,902.1 903.5,901.47 901.29,900.86 899.09,900.27 896.88,899.7 894.68,899.15 892.47,898.61 890.26,898.09 888.06,897.59 885.85,897.09 883.64,896.62 881.44,896.16 879.23,895.71 877.03,895.27 874.82,894.85 872.61,894.44 870.41,894.04 868.2,893.65 865.99,893.27 863.79,892.91 861.58,892.55 859.38,892.21 857.17,891.87 854.96,891.54 852.76,891.22 850.55,890.91 848.34,890.61 846.14,890.32 843.93,890.03 841.73,889.75 839.52,889.48 837.31,889.22 835.11,888.96 832.9,888.71 830.69,888.47 828.49,888.23 826.28,888 824.08,887.77 821.87,887.55 819.66,887.34 817.46,887.13 815.25,886.92 813.04,886.72 810.84,886.53 808.63,886.34 806.43,886.15 804.22,885.97 802.01,885.79 799.81,885.62 797.6,885.45 795.39,885.28 793.19,885.12 790.98,884.97 788.78,884.81 786.57,884.66 784.36,884.51 782.16,884.37 779.95,884.23 777.74,884.09 775.54,883.95 773.33,883.82 771.12,883.69 768.92,883.57 766.71,883.44 764.51,883.32 762.3,883.2 760.09,883.09 757.89,882.97 755.68,882.86 753.48,882.75 751.27,882.64 749.06,882.54 746.86,882.44 744.65,882.34 742.44,882.24 740.24,882.14 738.03,882.05 735.83,881.95 733.62,881.86 731.41,881.77 729.21,881.69 727,881.6 724.79,881.52 722.59,881.43 720.38,881.35 718.18,881.27 715.97,881.2 713.76,881.12 711.56,881.05 709.35,880.97 707.14,880.9 704.94,880.83 702.73,880.76 700.53,880.7 698.32,880.63 696.11,880.57 693.91,880.5 691.7,880.44 689.49,880.38 687.29,880.32 685.08,880.26 682.88,880.21 680.67,880.15 678.46,880.1 676.26,880.04 674.05,879.99 671.84,879.94 669.64,879.89 667.43,879.84 665.23,879.79 663.02,879.74 660.81,879.7 658.61,879.65 656.4,879.61 654.19,879.57 651.99,879.53 649.78,879.49 647.58,879.45 645.37,879.41 643.16,879.37 640.96,879.33 638.75,879.3 636.54,879.26 634.34,879.23 632.13,879.2 629.93,879.17 627.72,879.14 625.51,879.11 623.31,879.08 621.1,879.05" fill="none" stroke="#b3b525" stroke-width="4" stroke-linejoin="round"/>
<polyline points="974.1,936.2 971.89,932.88 969.69,929.7 967.48,926.66 965.27,923.74 963.07,920.93 960.86,918.23 958.66,915.64 956.45,913.15 954.24,910.75 952.04,908.44 949.83,906.21 947.62,904.05 945.42,901.97 943.21,899.96 941.01,898.02 938.8,896.14 936.59,894.31 934.39,892.55 932.18,890.83 929.98,889.17 927.77,887.55 925.56,885.98 923.36,884.45 921.15,882.96 918.94,881.51 916.74,880.1 914.53,878.72 912.33,877.38 910.12,876.06 907.91,874.78 905.71,873.53 903.5,872.3 901.29,871.1 899.09,869.93 896.88,868.78 894.68,867.65 892.47,866.54 890.26,865.46 888.06,864.4 885.85,863.35 883.64,862.33 881.44,861.32 879.23,860.33 877.03,859.36 874.82,858.4 872.61,857.46 870.41,856.54 868.2,855.63 865.99,854.73 863.79,853.85 861.58,852.99 859.38,852.13 857.17,851.29 854.96,850.46 852.76,849.65 850.55,848.84 848.34,848.05 846.14,847.27 843.93,846.5 841.73,845.74 839.52,844.99 837.31,844.26 835.11,843.53 832.9,842.82 830.69,842.11 828.49,841.41 826.28,840.73 824.08,840.05 821.87,839.38 819.66,838.73 817.46,838.08 815.25,837.44 813.04,836.81 810.84,836.19 808.63,835.58 806.43,834.98 804.22,834.38 802.01,833.8 799.81,833.22 797.6,832.65 795.39,832.09 793.19,831.54 790.98,831 788.78,830.47 786.57,829.94 784.36,829.42 782.16,828.92 779.95,828.41 777.74,827.92 775.54,827.44 773.33,826.96 771.12,826.49 768.92,826.03 766.71,825.58 764.51,825.14 762.3,824.7 760.09,824.27 757.89,823.85 755.68,823.44 753.48,823.04 751.27,822.64 749.06,822.25 746.86,821.87 744.65,821.5 742.44,821.14 740.24,820.78 738.03,820.43 735.83,820.09 733.62,819.76 731.41,819.43 729.21,819.11 727,818.8 724.79,818.5 722.59,818.21 720.38,817.92 718.18,817.64 715.97,817.37 713.76,817.11 711.56,816.85 709.35,816.6 707.14,816.36 704.94,816.13 702.73,815.91 700.53,815.69 698.32,815.48 696.11,815.28 693.91,815.09 691.7,814.9 689.49,814.72 687.29,814.55 685.08,814.39 682.88,814.23 680.67,814.08 678.46,813.94 676.26,813.81 674.05,813.69 671.84,813.57 669.64,813.46 667.43,813.36 665.23,813.26 663.02,813.18 660.81,813.1 658.61,813.03 656.4,812.97 654.19,812.91 651.99,812.86 649.78,812.82 647.58,812.79 645.37,812.76 643.16,812.75 640.96,812.74 638.75,812.74 636.54,812.74 634.34,812.76 632.13,812.78 629.93,812.81 627.72,812.84 625.51,812.89 623.31,812.94 621.1,813" fill="none" stroke="#eeab22" stroke-width="4" stroke-linejoin="round"/>
<polyline points="974.1,936.2 971.89,931.74 969.69,927.43 967.48,923.24 965.27,919.18 963.07,915.24 960.86,911.4 958.66,907.68 956.45,904.05 954.24,900.52 952.04,897.08 949.83,893.73 947.62,890.45 945.42,887.26 943.21,884.14 941.01,881.08 938.8,878.1 936.59,875.18 934.39,872.31 932.18,869.51 929.98,866.76 927.77,864.07 925.56,861.42 923.36,858.83 921.15,856.28 918.94,853.77 916.74,851.31 914.53,848.89 912.33,846.51 910.12,844.16 907.91,841.85 905.71,839.58 903.5,837.34 901.29,835.14 899.09,832.96 896.88,830.82 894.68,828.71 892.47,826.62 890.26,824.57 888.06,822.54 885.85,820.54 883.64,818.56 881.44,816.61 879.23,814.69 877.03,812.78 874.82,810.91 872.61,809.05 870.41,807.22 868.2,805.4 865.99,803.62 863.79,801.85 861.58,800.1 859.38,798.37 857.17,796.67 854.96,794.98 852.76,793.31 850.55,791.66 848.34,790.03 846.14,788.42 843.93,786.83 841.73,785.26 839.52,783.7 837.31,782.16 835.11,780.65 832.9,779.14 830.69,777.66 828.49,776.19 826.28,774.74 824.08,773.31 821.87,771.89 819.66,770.49 817.46,769.11 815.25,767.74 813.04,766.39 810.84,765.06 808.63,763.74 806.43,762.44 804.22,761.16 802.01,759.89 799.81,758.64 797.6,757.4 795.39,756.18 793.19,754.98 790.98,753.79 788.78,752.62 786.57,751.46 784.36,750.32 782.16,749.19 779.95,748.08 777.74,746.99 775.54,745.91 773.33,744.84 771.12,743.8 768.92,742.76 766.71,741.75 764.51,740.74 762.3,739.76 760.09,738.79 757.89,737.83 755.68,736.89 753.48,735.97 751.27,735.06 749.06,734.16 746.86,733.28 744.65,732.42 742.44,731.57 740.24,730.73 738.03,729.92 735.83,729.11 733.62,728.33 731.41,727.55 729.21,726.79 727,726.05 724.79,725.32 722.59,724.61 720.38,723.92 718.18,723.23 715.97,722.57 713.76,721.91 711.56,721.28 709.35,720.66 707.14,720.05 704.94,719.46 702.73,718.88 700.53,718.32 698.32,717.78 696.11,717.24 693.91,716.73 691.7,716.23 689.49,715.74 687.29,715.27 685.08,714.82 682.88,714.38 680.67,713.95 678.46,713.54 676.26,713.15 674.05,712.76 671.84,712.4 669.64,712.05 667.43,711.71 665.23,711.39 663.02,711.09 660.81,710.8 658.61,710.52 656.4,710.27 654.19,710.02 651.99,709.79 649.78,709.58 647.58,709.38 645.37,709.19 643.16,709.02 640.96,708.87 638.75,708.73 636.54,708.6 634.34,708.49 632.13,708.4 629.93,708.32 627.72,708.26 625.51,708.21 623.31,708.17 621.1,708.15" fill="none" stroke="#f27320" stroke-width="4" stroke-linejoin="round"/>
<polyline points="974.1,936.2 971.89,931 969.69,925.84 967.48,920.74 965.27,915.68 963.07,910.67 960.86,905.7 958.66,900.78 956.45,895.91 954.24,891.08 952.04,886.3 949.83,881.57 947.62,876.88 945.42,872.24 943.21,867.64 941.01,863.09 938.8,858.58 936.59,854.11 934.39,849.69 932.18,845.31 929.98,840.98 927.77,836.69 925.56,832.44 923.36,828.24 921.15,824.08 918.94,819.96 916.74,815.88 914.53,811.85 912.33,807.85 910.12,803.9 907.91,799.99 905.71,796.12 903.5,792.29 901.29,788.5 899.09,784.75 896.88,781.05 894.68,777.38 892.47,773.75 890.26,770.16 888.06,766.61 885.85,763.1 883.64,759.62 881.44,756.19 879.23,752.79 877.03,749.43 874.82,746.11 872.61,742.82 870.41,739.58 868.2,736.37 865.99,733.19 863.79,730.06 861.58,726.95 859.38,723.89 857.17,720.86 854.96,717.87 852.76,714.91 850.55,711.98 848.34,709.1 846.14,706.24 843.93,703.42 841.73,700.64 839.52,697.89 837.31,695.17 835.11,692.48 832.9,689.83 830.69,687.21 828.49,684.63 826.28,682.07 824.08,679.55 821.87,677.06 819.66,674.61 817.46,672.18 815.25,669.79 813.04,667.42 810.84,665.09 808.63,662.79 806.43,660.52 804.22,658.28 802.01,656.06 799.81,653.88 797.6,651.73 795.39,649.61 793.19,647.51 790.98,645.45 788.78,643.41 786.57,641.41 784.36,639.43 782.16,637.47 779.95,635.55 777.74,633.65 775.54,631.78 773.33,629.94 771.12,628.12 768.92,626.33 766.71,624.57 764.51,622.83 762.3,621.12 760.09,619.44 757.89,617.78 755.68,616.14 753.48,614.53 751.27,612.95 749.06,611.38 746.86,609.85 744.65,608.34 742.44,606.85 740.24,605.38 738.03,603.94 735.83,602.52 733.62,601.12 731.41,599.75 729.21,598.4 727,597.07 724.79,595.77 722.59,594.48 720.38,593.22 718.18,591.98 715.97,590.75 713.76,589.56 711.56,588.38 709.35,587.22 707.14,586.08 704.94,584.96 702.73,583.86 700.53,582.78 698.32,581.72 696.11,580.68 693.91,579.66 691.7,578.66 689.49,577.67 687.29,576.71 685.08,575.76 682.88,574.83 680.67,573.91 678.46,573.02 676.26,572.14 674.05,571.28 671.84,570.43 669.64,569.61 667.43,568.79 665.23,568 663.02,567.22 660.81,566.45 658.61,565.7 656.4,564.97 654.19,564.25 651.99,563.54 649.78,562.85 647.58,562.18 645.37,561.52 643.16,560.87 640.96,560.24 638.75,559.61 636.54,559.01 634.34,558.41 632.13,557.83 629.93,557.26 627.72,556.7 625.51,556.16 623.31,555.63 621.1,555.11" fill="none" stroke="#ff0022" stroke-width="4" stroke-linejoin="round"/>
<line x1="621.1" y1="936.2" x2="614" y2="936.2" stroke="#000" stroke-width="3.8"/>
<line x1="621.1" y1="798.87" x2="614" y2="798.87" stroke="#000" stroke-width="3.8"/>
<line x1="621.1" y1="661.54" x2="614" y2="661.54" stroke="#000" stroke-width="3.8"/>
<line x1="621.1" y1="524.21" x2="614" y2="524.21" stroke="#000" stroke-width="3.8"/>
<line x1="621.1" y1="867.54" x2="617.8" y2="867.54" stroke="#000" stroke-width="3.8"/>
<line x1="621.1" y1="730.21" x2="617.8" y2="730.21" stroke="#000" stroke-width="3.8"/>
<line x1="621.1" y1="592.88" x2="617.8" y2="592.88" stroke="#000" stroke-width="3.8"/>
<line x1="621.1" y1="936.2" x2="621.1" y2="942.8" stroke="#000" stroke-width="3.8"/>
<line x1="709.35" y1="936.2" x2="709.35" y2="942.8" stroke="#000" stroke-width="3.8"/>
<line x1="797.6" y1="936.2" x2="797.6" y2="942.8" stroke="#000" stroke-width="3.8"/>
<line x1="885.85" y1="936.2" x2="885.85" y2="942.8" stroke="#000" stroke-width="3.8"/>
<line x1="974.1" y1="936.2" x2="974.1" y2="942.8" stroke="#000" stroke-width="3.8"/>
<line x1="665.23" y1="936.2" x2="665.23" y2="939.4" stroke="#000" stroke-width="3.8"/>
<line x1="753.48" y1="936.2" x2="753.48" y2="939.4" stroke="#000" stroke-width="3.8"/>
<line x1="841.73" y1="936.2" x2="841.73" y2="939.4" stroke="#000" stroke-width="3.8"/>
<line x1="929.98" y1="936.2" x2="929.98" y2="939.4" stroke="#000" stroke-width="3.8"/>
<rect x="621.1" y="497" width="353" height="439.2" fill="none" stroke="#000" stroke-width="3.8"/>
<text x="562.05" y="944.3" font-size="29.5" stroke="#000">0.0</text>
<text x="546.3" y="808.4" font-size="29.5" stroke="#000">–0.1</text>
<text x="546.1" y="671.5" font-size="29.5" stroke="#000">–0.2</text>
<text x="545.8" y="534.6" font-size="29.5" stroke="#000">–0.3</text>
<text x="598.07" y="976.4" font-size="29.5" stroke="#000">–40</text>
<text x="686.32" y="976.4" font-size="29.5" stroke="#000">–30</text>
<text x="774.57" y="976.4" font-size="29.5" stroke="#000">–20</text>
<text x="862.82" y="976.4" font-size="29.5" stroke="#000">–10</text>
<text x="966.9" y="976.4" font-size="29.5" stroke="#000">0</text>
<line x1="843" y1="519.5" x2="888.6" y2="519.5" stroke="#16552c" stroke-width="4" stroke-linecap="round"/>
<text x="902.53" y="529" font-size="24.8" stroke="#000">0 V</text>
<line x1="843" y1="562.5" x2="888.6" y2="562.5" stroke="#b3b525" stroke-width="4" stroke-linecap="round"/>
<text x="903.5" y="572" font-size="24.8" stroke="#000">–10 V</text>
<line x1="843" y1="605.2" x2="888.6" y2="605.2" stroke="#eeab22" stroke-width="4" stroke-linecap="round"/>
<text x="903.5" y="614.7" font-size="24.8" stroke="#000">–20 V</text>
<line x1="843" y1="648.3" x2="888.6" y2="648.3" stroke="#f27320" stroke-width="4" stroke-linecap="round"/>
<text x="903.5" y="657.8" font-size="24.8" stroke="#000">–30 V</text>
<line x1="843" y1="690.8" x2="888.6" y2="690.8" stroke="#ff0022" stroke-width="4" stroke-linecap="round"/>
<text x="903.5" y="700.3" font-size="24.8" stroke="#000">–40 V</text>
<text x="649.83" y="534.5" font-size="25.4" font-style="italic" fill="#ff0000" stroke="#ff0000">p</text>
<text x="664.37" y="534.5" font-size="25.4" fill="#ff0000" stroke="#ff0000">-type</text>
<text x="753.45" y="1015.8" font-size="29.5" font-style="italic" stroke="#000">V</text>
<text x="772.42" y="1023.6" font-size="20.5" stroke="#000">DS</text>
<text x="809.77" y="1015.8" font-size="29.5" stroke="#000">(V)</text>
<g transform="translate(528.8,755.5) rotate(-90)"><text x="-1.15" y="0" font-size="29" font-style="italic" stroke="#000">I</text><text x="4.52" y="9.3" font-size="20.5" stroke="#000">DS</text><text x="41.4" y="0" font-size="29" stroke="#000">(μA)</text></g>
<text x="-0.63" y="22.6" font-size="42" font-weight="bold" stroke="#000">a</text>
<text x="-0.8" y="508.1" font-size="42.5" font-weight="bold" stroke="#000">b</text>
<text x="503.06" y="508.1" font-size="42" font-weight="bold" stroke="#000">c</text>
</g>
</svg></body></html>
